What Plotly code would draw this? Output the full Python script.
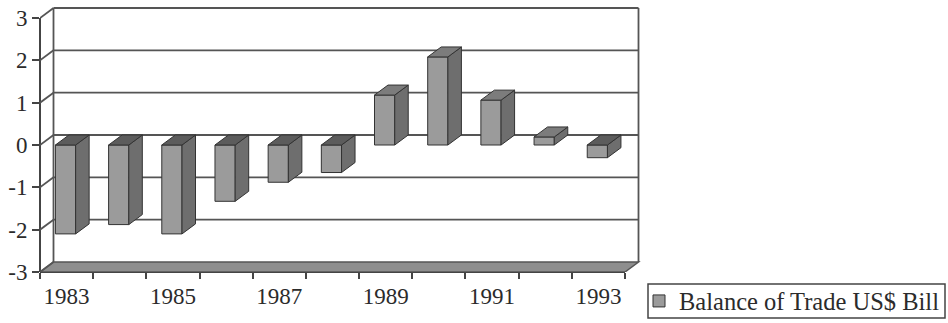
import plotly.graph_objects as go

# ---- data -------------------------------------------------------------
YEARS = [1983, 1984, 1985, 1986, 1987, 1988, 1989, 1990, 1991, 1992, 1993]
BALANCE = [-2.1, -1.88, -2.1, -1.33, -0.88, -0.65, 1.18, 2.08, 1.06, 0.19, -0.3]
Y_TICKS = [-3, -2, -1, 0, 1, 2, 3]
SERIES_NAME = "Balance of Trade US$ Bill"

# ---- geometry of the pseudo-3D box (pixels) ---------------------------
W, H = 948, 323
PLOT_L, PLOT_R, PLOT_T, PLOT_B = 40, 641, 6, 272   # plot area in page pixels
FRONT_W_PX = 585                                    # width of front plane
DEPTH_X_PX, DEPTH_Y_PX = 13.5, 10                   # oblique depth offset
Y_MIN, Y_MAX = Y_TICKS[0], Y_TICKS[-1]
UNIT_Y_PX = 254 / (Y_MAX - Y_MIN)
LEGEND_BOX_PX = (648, 284, 945, 318)                # left, top, right, bottom

n = len(YEARS)
unit_x_px = FRONT_W_PX / n
x_lo = -0.5
x_hi = x_lo + (PLOT_R - PLOT_L) / unit_x_px
y_hi = Y_MIN + (PLOT_B - PLOT_T) / UNIT_Y_PX
ddx = DEPTH_X_PX / unit_x_px
ddy = DEPTH_Y_PX / UNIT_Y_PX
x_front_r = x_lo + n


def paper_x(px):
    return (px - PLOT_L) / (PLOT_R - PLOT_L)


def paper_y(py):
    return (PLOT_B - py) / (PLOT_B - PLOT_T)


BAR_W = 0.38
xpos = [i - 0.02 for i in range(n)]

FRONT = "#9b9b9b"
SIDE = "#6e6e6e"
TOP_POS = "#7c7c7c"
TOP_NEG = "#5c5c5c"
EDGE = "#333333"
GRID = "#555555"
FLOOR = "#8e8e8e"
TEXT = "#2b2b2b"
FONT = "Liberation Serif, Times New Roman, serif"

shapes = []


def poly(pts, fill, layer="above", line_w=1, line_c=EDGE):
    d = "M " + " L ".join(f"{px},{py}" for px, py in pts) + " Z"
    return dict(type="path", path=d, xref="x", yref="y", fillcolor=fill,
                line=dict(color=line_c, width=line_w), layer=layer)


def seg(x0, y0, x1, y1, width=1.8, color=GRID, xref="x", yref="y", layer="below"):
    return dict(type="line", x0=x0, y0=y0, x1=x1, y1=y1, xref=xref, yref=yref,
                line=dict(color=color, width=width), layer=layer)


# floor
shapes.append(poly([(x_lo, Y_MIN), (x_front_r, Y_MIN),
                    (x_front_r + ddx, Y_MIN + ddy), (x_lo + ddx, Y_MIN + ddy)],
                   FLOOR, layer="below", line_w=1.5, line_c="#555555"))
# back wall gridlines and side wall diagonals
for v in Y_TICKS:
    if v > Y_MIN:
        shapes.append(seg(x_lo + ddx, v + ddy, x_front_r + ddx, v + ddy))
    shapes.append(seg(x_lo, v, x_lo + ddx, v + ddy))
# back wall vertical edges
shapes.append(seg(x_lo + ddx, Y_MIN + ddy, x_lo + ddx, Y_MAX + ddy))
shapes.append(seg(x_front_r + ddx, Y_MIN + ddy, x_front_r + ddx, Y_MAX + ddy))
# front axes
shapes.append(seg(0, Y_MIN, 0, Y_MAX, width=2, color="#444444", xref="paper"))
shapes.append(seg(x_lo, 0, x_front_r, 0, width=2, color="#444444", yref="paper"))

# side and top faces of each column
for xc, v in zip(xpos, BALANCE):
    x0, x1 = xc - BAR_W / 2, xc + BAR_W / 2
    top = max(v, 0)
    shapes.append(poly([(x1, 0), (x1, v), (x1 + ddx, v + ddy), (x1 + ddx, ddy)], SIDE))
    shapes.append(poly([(x0, top), (x1, top), (x1 + ddx, top + ddy), (x0 + ddx, top + ddy)],
                       TOP_POS if v >= 0 else TOP_NEG))

# legend frame
lb_l, lb_t, lb_r, lb_b = LEGEND_BOX_PX
shapes.append(dict(type="rect", xref="paper", yref="paper",
                   x0=paper_x(lb_l), x1=paper_x(lb_r), y0=paper_y(lb_b), y1=paper_y(lb_t),
                   line=dict(color="#444444", width=1.5), fillcolor="rgba(0,0,0,0)",
                   layer="above"))

fig = go.Figure()
fig.add_trace(go.Bar(
    x=xpos, y=BALANCE, width=BAR_W, name=SERIES_NAME, showlegend=True,
    marker=dict(color=FRONT, line=dict(color=EDGE, width=1)),
))

fig.update_layout(
    width=W, height=H,
    margin=dict(l=PLOT_L, r=W - PLOT_R, t=PLOT_T, b=H - PLOT_B, pad=0, autoexpand=False),
    paper_bgcolor="white", plot_bgcolor="white",
    font=dict(family=FONT, color=TEXT, size=23),
    shapes=shapes,
    showlegend=True,
    legend=dict(
        x=paper_x(lb_l - 9), y=paper_y((lb_t + lb_b) / 2),
        xanchor="left", yanchor="middle",
        borderwidth=0, bgcolor="rgba(0,0,0,0)",
        font=dict(family=FONT, size=24.5, color=TEXT),
    ),
    xaxis=dict(
        range=[x_lo, x_hi], showgrid=False, zeroline=False, showline=False,
        automargin=False,
        tickmode="array", tickvals=list(range(0, n, 2)),
        ticktext=[str(y) for y in YEARS[::2]], ticks="",
        tickfont=dict(size=23, family=FONT, color=TEXT),
        ticklabelstandoff=8,
        minor=dict(tickmode="array", tickvals=[x_lo + k for k in range(n + 1)],
                   ticks="outside", ticklen=6, tickwidth=1.5, tickcolor="#444444",
                   showgrid=False),
    ),
    yaxis=dict(
        range=[Y_MIN, y_hi], showgrid=False, zeroline=False, showline=False,
        automargin=False,
        tickmode="array", tickvals=Y_TICKS, ticktext=[str(v) for v in Y_TICKS],
        ticks="outside", ticklen=7, tickwidth=1.5, tickcolor="#444444",
        tickfont=dict(size=23, family=FONT, color=TEXT),
    ),
)

fig.write_html("out.html")
